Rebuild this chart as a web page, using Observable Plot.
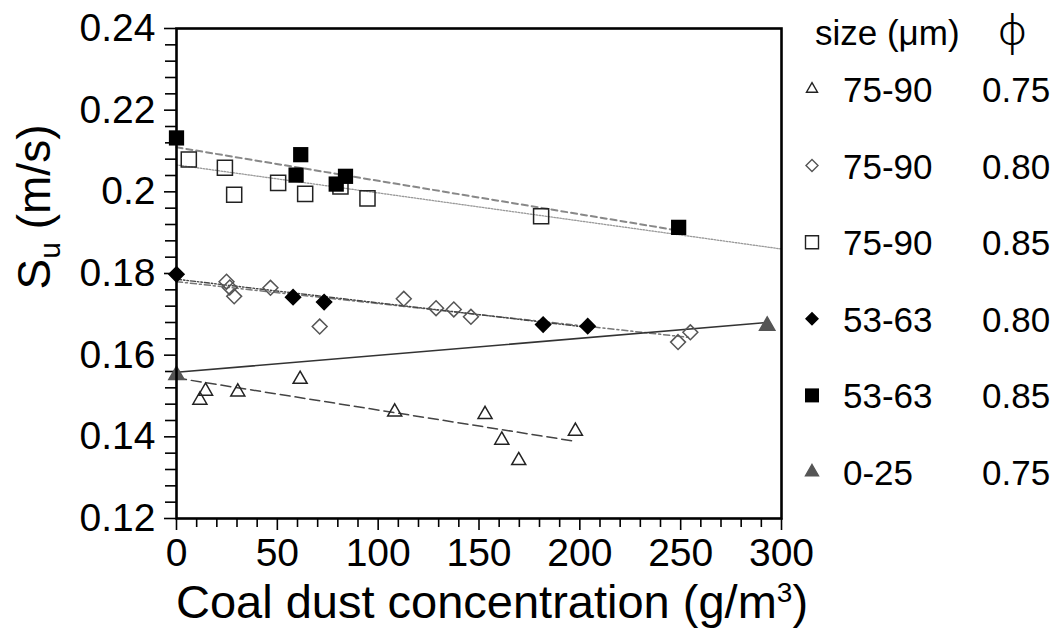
<!DOCTYPE html>
<html><head><meta charset="utf-8">
<script src="https://cdn.jsdelivr.net/npm/d3@7"></script>
<script src="https://cdn.jsdelivr.net/npm/@observablehq/plot@0.6"></script>
<style>body{margin:0;background:#fff}</style>
</head><body><div id="chart"></div>
<script>
// ---- data ----
const xTicks = [0, 50, 100, 150, 200, 250, 300];
const xTickLabels = ["0", "50", "100", "150", "200", "250", "300"];
const yTicks = [0.12, 0.14, 0.16, 0.18, 0.2, 0.22, 0.24];
const yTickLabels = ["0.12", "0.14", "0.16", "0.18", "0.2", "0.22", "0.24"];

// 75-90 µm, phi 0.75 (open triangles)
const tri75X = [11.6, 14.4, 30.4, 61.3, 108.2, 153, 161.3, 169.7, 197.8];
const tri75Y = [0.1490, 0.1512, 0.1510, 0.1541, 0.1461, 0.1455, 0.1392, 0.1342, 0.1414];
// 75-90 µm, phi 0.80 (open diamonds)
const dia75X = [24.8, 26.4, 28.6, 46.6, 71, 112.7, 128.7, 137.5, 146, 248.7, 254.8];
const dia75Y = [0.1780, 0.1766, 0.1744, 0.1765, 0.1670, 0.1738, 0.1715, 0.1712, 0.1694, 0.1632, 0.1656];
// 75-90 µm, phi 0.85 (open squares)
const sq75X = [6.1, 24, 28.6, 50.4, 63.8, 81.3, 94.7, 180.8];
const sq75Y = [0.2079, 0.2059, 0.1993, 0.2022, 0.1995, 0.2013, 0.1984, 0.1940];
// 53-63 µm, phi 0.80 (filled diamonds)
const dia53X = [0, 57.8, 73.2, 181.8, 203.9];
const dia53Y = [0.1798, 0.1742, 0.1730, 0.1675, 0.1671];
// 53-63 µm, phi 0.85 (filled squares)
const sq53X = [0, 59.3, 61.6, 79.2, 83.8, 249];
const sq53Y = [0.2132, 0.2041, 0.2091, 0.2019, 0.2038, 0.1913];
// 0-25 µm, phi 0.75 (filled grey triangles)
const tri025X = [0, 292.9];
const tri025Y = [0.1551, 0.1672];

// fitted lines (end points)
const fitTri75X = [0, 197.8], fitTri75Y = [0.1544, 0.1389];
const fitDia75X = [0, 255], fitDia75Y = [0.1780, 0.1643];
const fitSq75X = [0, 300], fitSq75Y = [0.2066, 0.1860];
const fitDia53X = [0, 204], fitDia53Y = [0.1786, 0.1668];
const fitSq53X = [0, 249], fitSq53Y = [0.2109, 0.1905];
const fitTri025X = [0, 292.9], fitTri025Y = [0.1558, 0.1680];

// legend
const legendSizes = ["75-90", "75-90", "75-90", "53-63", "53-63", "0-25"];
const legendPhis = ["0.75", "0.80", "0.85", "0.80", "0.85", "0.75"];

// ---- build ----
const FONT = "'Liberation Sans', Arial, Helvetica, sans-serif";
const pts = (xs, ys) => xs.map((x, i) => ({x, y: ys[i]}));

const series = [
  {pts: pts(tri75X, tri75Y), fit: pts(fitTri75X, fitTri75Y), symbol: "triangle2", d3sym: d3.symbolTriangle2, r: 6.7, fill: "none", stroke: "#222", lsize: 87,
   line: {stroke: "#444", strokeWidth: 1.5, strokeDasharray: "10,5"}},
  {pts: pts(dia75X, dia75Y), fit: pts(fitDia75X, fitDia75Y), symbol: "diamond2", d3sym: d3.symbolDiamond2, r: 6.7, fill: "none", stroke: "#555", lsize: 92,
   line: {stroke: "#777", strokeWidth: 1.5, strokeDasharray: "6,3,2,3"}},
  {pts: pts(sq75X, sq75Y), fit: pts(fitSq75X, fitSq75Y), symbol: "square2", d3sym: d3.symbolSquare2, r: 9.6, fill: "none", stroke: "#222", lsize: 215,
   line: {stroke: "#999", strokeWidth: 1.3, strokeDasharray: "1.5,1.5"}},
  {pts: pts(dia53X, dia53Y), fit: pts(fitDia53X, fitDia53Y), symbol: "diamond2", d3sym: d3.symbolDiamond2, r: 6.8, fill: "black", stroke: "black", lsize: 92,
   line: {stroke: "#444", strokeWidth: 1.4, strokeDasharray: "5,2,1.5,2,1.5,2"}},
  {pts: pts(sq53X, sq53Y), fit: pts(fitSq53X, fitSq53Y), symbol: "square", d3sym: d3.symbolSquare, r: 8.6, fill: "black", stroke: "none", lsize: 196,
   line: {stroke: "#888", strokeWidth: 2, strokeDasharray: "6,4"}},
  {pts: pts(tri025X, tri025Y), fit: pts(fitTri025X, fitTri025Y), symbol: "triangle2", d3sym: d3.symbolTriangle2, r: 7.3, fill: "#555", stroke: "#555", lsize: 121,
   line: {stroke: "#333", strokeWidth: 1.6}}
];

const xMinor = d3.range(0, 301, 10).filter(v => !xTicks.includes(v));
const yMinor = d3.range(0, 31).map(i => +(0.12 + i * 0.004).toFixed(3)).filter(v => !yTicks.some(t => Math.abs(t - v) < 1e-9));

const W = 1054, H = 630, ML = 176, MR = 273, MT = 28, MB = 112;

const plot = Plot.plot({
  width: W, height: H,
  marginLeft: ML, marginRight: MR, marginTop: MT, marginBottom: MB,
  style: {fontFamily: FONT, background: "white", color: "black", overflow: "visible"},
  x: {domain: [0, 300]},
  y: {domain: [0.12, 0.24]},
  marks: [
    Plot.axisX({ticks: xMinor, tickSize: 9, tickFormat: () => "", strokeWidth: 1.6, label: null}),
    Plot.axisX({ticks: xTicks, tickSize: 12, tickPadding: 8, fontSize: 39, strokeWidth: 1.6,
      tickFormat: d => xTickLabels[xTicks.indexOf(d)], label: null}),
    Plot.axisY({ticks: yMinor, tickSize: 11, tickFormat: () => "", strokeWidth: 1.6, label: null}),
    Plot.axisY({ticks: yTicks, tickSize: 12, tickPadding: 9, fontSize: 39, strokeWidth: 1.6,
      tickFormat: d => yTickLabels[yTicks.indexOf(d)], label: null}),
    ...series.map(s => Plot.line(s.fit, {x: "x", y: "y", ...s.line})),
    ...series.map(s => Plot.dot(s.pts, {x: "x", y: "y", symbol: s.symbol, r: s.r, fill: s.fill, stroke: s.stroke, strokeWidth: 1.5})),
    Plot.frame({stroke: "black", strokeWidth: 2.6})
  ]
});

const svg = d3.select(plot);

// axis titles
const xt = svg.append("text").attr("x", 492).attr("y", 618)
  .attr("text-anchor", "middle").attr("font-size", 47).attr("font-family", FONT).attr("fill", "black");
xt.append("tspan").text("Coal dust concentration (g/m");
xt.append("tspan").attr("font-size", 28).attr("dy", -16).text("3");
xt.append("tspan").attr("dy", 16).text(")");

const yt = svg.append("text").attr("transform", "translate(50,207) rotate(-90)")
  .attr("text-anchor", "middle").attr("font-size", 46).attr("font-family", FONT).attr("fill", "black");
yt.append("tspan").text("S");
yt.append("tspan").attr("font-size", 30).attr("dy", 10).text("u");
yt.append("tspan").attr("dy", -10).text(" (m/s)");

// legend
const lg = svg.append("g").attr("font-family", FONT).attr("fill", "black").attr("text-anchor", "start");
lg.append("text").attr("x", 815).attr("y", 45).attr("font-size", 35).text("size (μm)");
lg.append("text").attr("x", 998).attr("y", 45).attr("font-size", 42).attr("font-family", "'Noto Sans', 'DejaVu Sans', sans-serif").attr("font-weight", 300).text("ϕ");
legendSizes.forEach((sz, i) => {
  const base = 102 + i * 76.6;
  const s = series[i];
  lg.append("path").attr("d", d3.symbol(s.d3sym, s.lsize)())
    .attr("transform", `translate(812,${base - 13})`)
    .attr("fill", s.fill).attr("stroke", s.stroke === "none" ? "none" : s.stroke).attr("stroke-width", 1.4);
  lg.append("text").attr("x", 843).attr("y", base).attr("font-size", 35).text(sz);
  lg.append("text").attr("x", 982).attr("y", base).attr("font-size", 35).text(legendPhis[i]);
});

document.getElementById("chart").appendChild(plot);
</script></body></html>
